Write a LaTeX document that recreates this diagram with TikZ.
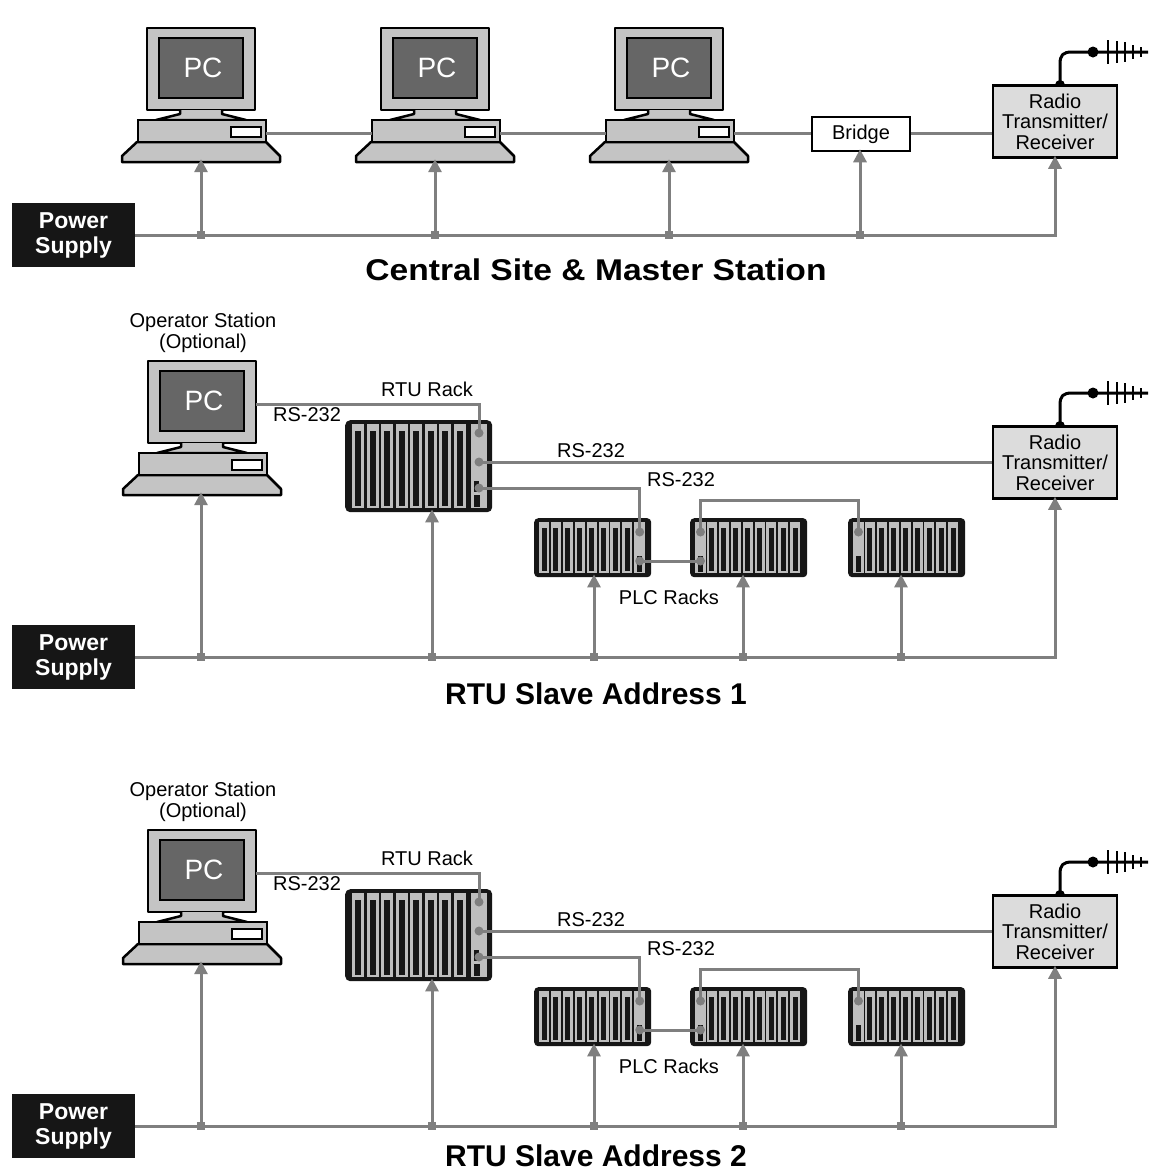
\documentclass[tikz,border=0pt]{standalone}
\usepackage{fontspec}
\usepackage{graphicx}
\setmainfont{Liberation Sans}
\usetikzlibrary{arrows.meta}

\definecolor{wire}{HTML}{7F7F7F}
\definecolor{casegray}{HTML}{C4C4C4}
\definecolor{screengray}{HTML}{666666}
\definecolor{boxgray}{HTML}{DCDCDC}
\definecolor{slotgray}{HTML}{BEBEBE}
\definecolor{ink}{HTML}{161616}

\tikzset{
  wireline/.style={draw=wire, line width=3pt},
  feed/.style={wireline, -{Triangle[length=13pt,width=13pt]}, shorten >=-3pt},
  txt/.style={font=\fontsize{20}{20.5}\selectfont, inner sep=0pt},
  psbox/.style={fill=ink, text=white, font=\bfseries\fontsize{23}{25}\selectfont,
    minimum width=123pt, minimum height=64pt, align=center, inner sep=0pt},
  radiobox/.style={draw=black, line width=2.5pt, fill=boxgray, minimum width=124pt,
    minimum height=72pt, align=center, font=\fontsize{20}{20.5}\selectfont, inner sep=0pt},
  junction/.style={fill=wire, minimum size=8pt, inner sep=0pt},
  headline/.style={font=\bfseries\fontsize{30}{30}\selectfont, inner sep=0pt},
  port/.style={fill=wire},
}

% desktop computer: #1,#2 = centre x and top y of the monitor, #3 = name
\newcommand\pcunit[3]{%
 \begin{scope}[shift={(#1,#2)}]
  \node[minimum width=160pt, minimum height=134pt, inner sep=0pt] (#3) at (0,67) {};
  \draw[line width=2.5pt, fill=casegray, line join=round] (-54,0) rectangle (54,82);
  \draw[line width=2pt, fill=screengray] (-42,10) rectangle (42,70);
  \node[text=white, font=\fontsize{28}{28}\selectfont, inner sep=0pt] at (2,40) {PC};
  \draw[line width=2.5pt, fill=casegray, line join=round]
    (-21,82) -- (-21,86) -- (-45,92) -- (45,92) -- (21,86) -- (21,82);
  \draw[line width=2.5pt, fill=casegray, line join=round]
    (-64,114) -- (65,114) -- (79,128) -- (79,134) -- (-79,134) -- (-79,128) -- cycle;
  \draw[line width=2.5pt, fill=casegray] (-63,92) rectangle (65,114);
  \draw[line width=2pt, fill=white] (30,99) rectangle (60,109);
  \coordinate (#3-r) at (65,105);
  \coordinate (#3-l) at (-63,105);
  \coordinate (#3-m) at (54,43);
 \end{scope}}

% PLC rack: #1,#2 = top-left corner, #3 = position of the interface module (0..8), #4 = name
\newcommand\plcrack[4]{%
  \node[fill=ink, rounded corners=4pt, minimum width=117pt, minimum height=59pt,
        inner sep=0pt, anchor=north west] (#4) at (#1,#2) {};
  \foreach \k in {0,...,8}{
    \pgfmathsetmacro\sx{#1+5+\k*11.9}
    \ifnum\k=#3\relax
      \fill[slotgray] (\sx,#2+4) rectangle ++(11,51);
      \fill[ink] (\sx+3,#2+38) rectangle ++(5,16);
    \else
      \fill[slotgray] (\sx,#2+4) rectangle ++(10,51);
      \fill[ink] (\sx+2.5,#2+10) rectangle ++(5,43);
    \fi
  }
  \coordinate (#4-top) at (#1+5+#3*11.9+5.5,#2+14);
  \coordinate (#4-low) at (#1+5+#3*11.9+5.5,#2+43);
}

% antenna standing on a radio box: #1,#2 = foot point
\newcommand\antenna[2]{%
 \begin{scope}[shift={(#1,#2)}]
  \fill (-5,0) arc[start angle=180, end angle=0, radius=5pt] -- cycle;
  \draw[line width=3pt] (0,0) -- (0,-21) .. controls (0,-30) and (3,-33) .. (12,-33) -- (88,-33);
  \fill (33,-33) circle[radius=5.5pt];
  \draw[line width=2.5pt]
    (48,-45) -- (48,-21)  (57,-44) -- (57,-22)  (65,-43) -- (65,-23)
    (73,-40) -- (73,-26)  (81,-38) -- (81,-28);
 \end{scope}}

% remote station: #1 = vertical offset, #2 = name prefix, #3 = caption, #4 = caption y
\newcommand\rturow[4]{%
 \begin{scope}[shift={(0,#1)}]
  \node[txt, align=center] at (203,333) {Operator Station\\(Optional)};
  \pcunit{202}{361}{#2pc}
  % RTU rack
  \node[fill=ink, rounded corners=5pt, minimum width=147pt, minimum height=92pt,
        inner sep=0pt, anchor=north west] (#2rtu) at (345,420) {};
  \foreach \k in {0,...,7}{
    \pgfmathsetmacro\sx{352+\k*14.5}
    \fill[slotgray] (\sx,424) rectangle ++(12,84);
    \fill[ink] (\sx+3,431) rectangle ++(6,75);
  }
  \fill[slotgray] (471,424) rectangle (487,508);
  \fill[ink] (474,481) rectangle (479,492);
  \fill[ink] (474,495) rectangle (480,507);
  \coordinate (#2p1) at (479,433);
  \coordinate (#2p2) at (479,462);
  \coordinate (#2p3) at (479,488);
  \node[txt] at (427,389) {RTU Rack};
  % PLC racks
  \plcrack{534}{518}{8}{#2plcA}
  \plcrack{690}{518}{0}{#2plcB}
  \plcrack{848}{518}{0}{#2plcC}
  \node[txt] at (669,597) {PLC Racks};
  % radio
  \node[radiobox] (#2radio) at (1055,462.5) {Radio\\Transmitter/\\Receiver};
  \antenna{1060}{426}
  % serial links
  \draw[wireline] (#2pc-m) -| (#2p1);
  \draw[wireline] (#2p2) -- (#2p2 -| #2radio.west);
  \draw[wireline] (#2p3) -| (#2plcA-top);
  \draw[wireline] (#2plcA-low) -- (#2plcB-low);
  \draw[wireline] (#2plcB-top) -- ++(0,-32) -| (#2plcC-top);
  \foreach \p in {#2p1,#2p2,#2p3,#2plcA-top,#2plcB-top,#2plcC-top,#2plcA-low,#2plcB-low}
    \fill[port] (\p) circle[radius=4.5pt];
  \node[txt] at (307,415) {RS-232};
  \node[txt] at (591,451) {RS-232};
  \node[txt] at (681,480) {RS-232};
  % power distribution
  \node[psbox] (#2ps) at (73.5,657) {Power\\Supply};
  \draw[feed] (#2ps.east) -| (#2radio.south);
  \node[junction] (#2j1) at (201,657) {};
  \node[junction] (#2j2) at (432,657) {};
  \node[junction] (#2j3) at (594,657) {};
  \node[junction] (#2j4) at (743,657) {};
  \node[junction] (#2j5) at (901,657) {};
  \draw[feed] (#2j1) -- (#2j1 |- #2pc.south);
  \draw[feed] (#2j2) -- (#2j2 |- #2rtu.south);
  \draw[feed] (#2j3) -- (#2j3 |- #2plcA.south);
  \draw[feed] (#2j4) -- (#2j4 |- #2plcB.south);
  \draw[feed] (#2j5) -- (#2j5 |- #2plcC.south);
 \end{scope}
 \node[headline] at (596,#4) {#3};
}

\begin{document}
\begin{tikzpicture}[x=1pt, y=-1pt]
  \useasboundingbox[fill=white] (0,0) rectangle (1156,1171);

  % ---- central site ----
  \pcunit{201}{28}{pc1}
  \pcunit{435}{28}{pc2}
  \pcunit{669}{28}{pc3}
  \node[draw=black, line width=2.5pt, fill=white, minimum width=98pt, minimum height=34pt,
        inner sep=0pt, font=\fontsize{20}{20}\selectfont] (bridge) at (861,134) {Bridge};
  \node[radiobox] (radio) at (1055,121.5) {Radio\\Transmitter/\\Receiver};
  \antenna{1060}{85}
  \draw[wireline] (pc1-r) -- (pc2-l);
  \draw[wireline] (pc2-r) -- (pc3-l);
  \draw[wireline] (pc3-r) -- (pc3-r -| bridge.west);
  \draw[wireline] (pc3-r -| bridge.east) -- (pc3-r -| radio.west);

  \node[psbox] (ps) at (73.5,235) {Power\\Supply};
  \draw[feed] (ps.east) -| (radio.south);
  \node[junction] (j1) at (201,235) {};
  \node[junction] (j2) at (435,235) {};
  \node[junction] (j3) at (669,235) {};
  \node[junction] (j4) at (860,235) {};
  \draw[feed] (j1) -- (j1 |- pc1.south);
  \draw[feed] (j2) -- (j2 |- pc2.south);
  \draw[feed] (j3) -- (j3 |- pc3.south);
  \draw[feed] (j4) -- (j4 |- bridge.south);
  \node[headline] at (596,270) {\scalebox{1.12}[1]{Central Site \& Master Station}};

  % ---- remote stations ----
  \rturow{0}{a}{RTU Slave Address 1}{694}
  \rturow{469}{b}{RTU Slave Address 2}{1156}
\end{tikzpicture}
\end{document}
